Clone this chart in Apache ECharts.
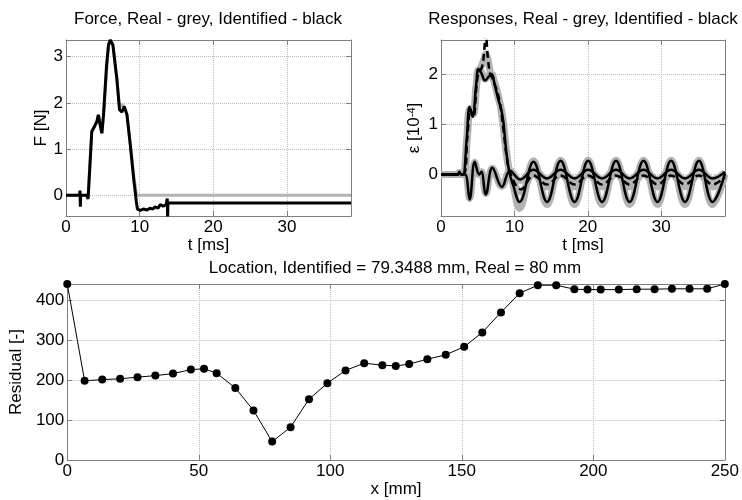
<!DOCTYPE html>
<html>
<head>
<meta charset="utf-8">
<script src="https://cdn.jsdelivr.net/npm/echarts@6.0.0/dist/echarts.min.js"></script>
<style>
html,body{margin:0;padding:0;background:#fff;}
#chart{width:742px;height:500px;}
</style>
</head>
<body>
<div id="chart"></div>
<script>
// ---------------- DATA ----------------
// Force plot (t in ms, F in N)
const forceIdentT = [0, 1.85, 1.9, 1.95, 2.0, 2.8, 3.0, 3.5, 3.9, 4.2, 4.4, 4.6, 4.87, 5.1, 5.5, 5.77, 6.0, 6.37, 6.9, 7.27, 7.6, 7.9, 8.28, 8.73, 9.18, 9.55, 9.7, 10.1, 10.5, 11.0, 11.4, 11.8, 12.1, 12.5, 12.8, 13.2, 13.6, 13.75, 13.8, 13.85, 13.9, 38.7];
const forceIdent  = [0, 0, 0.1, -0.25, 0, 0, -0.08, 1.38, 1.5, 1.6, 1.74, 1.55, 1.34, 1.75, 2.8, 3.25, 3.36, 3.25, 2.53, 1.85, 1.8, 1.92, 1.74, 1.09, 0.37, -0.14, -0.3, -0.33, -0.3, -0.32, -0.28, -0.3, -0.25, -0.28, -0.2, -0.24, -0.2, -0.07, -0.46, -0.17, -0.17, -0.17];
const forceRealT  = [0, 3.0, 3.5, 3.9, 4.2, 4.4, 4.87, 5.1, 5.77, 6.0, 6.37, 6.9, 7.27, 7.6, 7.9, 8.28, 8.73, 9.18, 9.5, 9.6, 38.7];
const forceReal   = [0, 0, 1.38, 1.5, 1.6, 1.74, 1.34, 1.75, 3.25, 3.36, 3.25, 2.53, 1.9, 1.97, 1.92, 1.74, 1.1, 0.45, 0.1, 0, 0];

// Responses (t in ms, strain in 1e-4)
const respAT     = [0, 2.3, 2.5, 2.7, 3.0, 3.5, 3.9, 4.3, 4.8, 5.1, 5.5, 6.0, 6.5, 6.9, 7.3, 7.8, 8.2, 8.5, 8.9, 9.3, 9.8, 10.7, 12.6, 14.45, 16.3, 18.2, 20.05, 21.95, 23.85, 25.7, 27.6, 29.5, 31.35, 33.25, 35.15, 37.0, 38.7];
const respAIdent = [0, 0, 0.04, 0, 0, 0.7, 1.35, 1.15, 1.8, 2.1, 2.02, 1.87, 1.95, 2.0, 1.8, 1.5, 1.3, 1.05, 0.45, 0.05, -0.2, -0.55, 0.25, -0.55, 0.27, -0.55, 0.27, -0.55, 0.27, -0.55, 0.27, -0.55, 0.27, -0.55, 0.27, -0.55, 0.02];
const respAReal  = [0, 0, 0.03, 0, 0, 0.7, 1.3, 1.2, 1.8, 2.08, 2.05, 1.9, 1.97, 2.0, 1.82, 1.52, 1.32, 1.05, 0.5, 0.08, -0.2, -0.68, 0.27, -0.6, 0.28, -0.6, 0.28, -0.6, 0.28, -0.6, 0.28, -0.6, 0.28, -0.6, 0.28, -0.6, 0.0];

const respBT     = [0, 2.3, 2.5, 2.8, 3.3, 3.9, 4.6, 5.2, 5.5, 6.1, 7.0, 8.3, 9.4, 10.8, 12.6, 14.45, 16.3, 18.2, 20.05, 21.95, 23.85, 25.7, 27.6, 29.5, 31.35, 33.25, 35.15, 37.0, 38.7];
const respBIdent = [0, 0, 0.05, 0, 0, -0.5, 0.25, 0.0, 0.05, -0.4, 0.13, -0.25, 0.07, -0.1, 0.09, -0.08, 0.09, -0.08, 0.09, -0.08, 0.09, -0.08, 0.09, -0.08, 0.09, -0.08, 0.09, -0.08, 0.05];
const respBReal  = [0, 0, 0.04, 0, 0, -0.48, 0.24, 0.0, 0.05, -0.38, 0.12, -0.24, 0.07, -0.12, 0.1, -0.1, 0.1, -0.1, 0.1, -0.1, 0.1, -0.1, 0.1, -0.1, 0.1, -0.1, 0.1, -0.1, 0.04];

const respCT     = [0, 3.0, 3.6, 4.0, 4.4, 5.0, 5.6, 5.85, 6.1, 6.4, 6.7, 7.0, 7.5, 8.0, 8.5, 9.0, 9.5, 10.9, 12.6, 14.45, 16.3, 18.2, 20.05, 21.95, 23.85, 25.7, 27.6, 29.5, 31.35, 33.25, 35.15, 37.0, 38.7];
const respCIdent = [0, 0, 0.75, 1.3, 1.15, 1.95, 2.15, 2.4, 2.8, 2.3, 2.0, 1.92, 1.72, 1.45, 0.9, 0.3, 0.0, -0.3, -0.02, -0.2, -0.02, -0.2, -0.02, -0.2, -0.02, -0.2, -0.02, -0.2, -0.02, -0.2, -0.02, -0.2, -0.05];
const respCReal  = [0, 0, 0.75, 1.3, 1.2, 1.95, 2.2, 2.3, 2.4, 2.3, 2.05, 1.95, 1.75, 1.45, 0.9, 0.3, 0.0, -0.35, 0.0, -0.25, 0.0, -0.25, 0.0, -0.25, 0.0, -0.25, 0.0, -0.25, 0.0, -0.25, 0.0, -0.25, -0.05];

// Residual vs location
const locX     = [0, 6.6, 13.3, 20.1, 26.7, 33.5, 40.2, 47.0, 52.0, 56.8, 63.9, 70.8, 77.9, 84.9, 91.9, 98.9, 105.8, 112.9, 119.8, 124.9, 130.0, 136.9, 143.9, 150.9, 157.8, 164.9, 172.0, 178.9, 185.9, 192.8, 197.8, 202.8, 209.7, 216.5, 223.3, 229.9, 236.6, 243.3, 250];
const residual = [440, 198, 201, 203, 207, 211, 216, 226, 228, 217, 180, 124, 46, 82, 152, 192, 224, 242, 237, 235, 240, 252, 263, 283, 319, 369, 417, 437, 437, 427, 426, 426, 426, 427, 427, 428, 428, 428, 440];

// Texts
const titles = ['Force, Real - grey, Identified - black', 'Responses, Real - grey, Identified - black', 'Location, Identified = 79.3488 mm, Real = 80 mm'];
const axisNames = { t: 't [ms]', F: 'F [N]', eps: '\u03b5 [10{sup|-4}]', x: 'x [mm]', res: 'Residual [-]' };

// ---------------- CHART ----------------
const FONT = '"Liberation Sans", Arial, Helvetica, sans-serif';
const FS = 17;
const AXC = '#7f7f7f';
const GREY = '#b3b3b3';

const pairs = (xs, ys) => xs.map((x, i) => [x, ys[i]]);

function mainX(grid, min, max, step, name, fixedInterval) {
  const o = {
    type: 'value', gridIndex: grid, position: 'bottom', min, max,
    name, nameLocation: 'middle', nameGap: 21,
    nameTextStyle: { fontFamily: FONT, fontSize: FS, color: '#000' },
    axisLine: { show: true, onZero: false, lineStyle: { color: AXC, width: 1 } },
    axisTick: { show: true, inside: true, length: 5, lineStyle: { color: AXC } },
    axisLabel: { fontFamily: FONT, fontSize: FS, color: '#000', margin: 3, showMaxLabel: fixedInterval ? true : false },
    splitLine: { show: true, lineStyle: { color: '#bdbdbd', type: 'dotted', width: 1 } }
  };
  if (fixedInterval) o.interval = step; else { o.minInterval = step; o.maxInterval = step; }
  return o;
}
function mirrorX(grid, min, max, step, fixedInterval) {
  const o = {
    type: 'value', gridIndex: grid, position: 'top', min, max,
    axisLine: { show: true, onZero: false, lineStyle: { color: AXC, width: 1 } },
    axisTick: { show: true, inside: true, length: 5, lineStyle: { color: AXC } },
    axisLabel: { show: false }, splitLine: { show: false }
  };
  if (fixedInterval) o.interval = step; else { o.minInterval = step; o.maxInterval = step; }
  return o;
}
function mainY(grid, min, max, step, name, gap, fixedInterval, rich) {
  const o = {
    type: 'value', gridIndex: grid, position: 'left', min, max,
    name, nameLocation: 'middle', nameGap: gap,
    nameTextStyle: { fontFamily: FONT, fontSize: FS, color: '#000', rich: rich || {} },
    axisLine: { show: true, onZero: false, lineStyle: { color: AXC, width: 1 } },
    axisTick: { show: true, inside: true, length: 5, lineStyle: { color: AXC } },
    axisLabel: { fontFamily: FONT, fontSize: FS, color: '#000', margin: 3, showMinLabel: fixedInterval ? true : false, showMaxLabel: false },
    splitLine: { show: true, lineStyle: { color: '#bdbdbd', type: 'dotted', width: 1 } }
  };
  if (fixedInterval) o.interval = step; else { o.minInterval = step; o.maxInterval = step; }
  return o;
}
function mirrorY(grid, min, max, step, fixedInterval) {
  const o = {
    type: 'value', gridIndex: grid, position: 'right', min, max,
    axisLine: { show: true, onZero: false, lineStyle: { color: AXC, width: 1 } },
    axisTick: { show: true, inside: true, length: 5, lineStyle: { color: AXC } },
    axisLabel: { show: false }, splitLine: { show: false }
  };
  if (fixedInterval) o.interval = step; else { o.minInterval = step; o.maxInterval = step; }
  return o;
}

const supRich = { sup: { fontFamily: FONT, fontSize: 11, color: '#000', verticalAlign: 'top', padding: [0, 0, 6, 0] } };

const option = {
  animation: false,
  backgroundColor: '#fff',
  textStyle: { fontFamily: FONT },
  title: [
    { text: titles[0], left: 208, top: 11, padding: 0, textAlign: 'center', textStyle: { fontFamily: FONT, fontSize: FS, fontWeight: 'normal', color: '#000' } },
    { text: titles[1], left: 583, top: 11, padding: 0, textAlign: 'center', textStyle: { fontFamily: FONT, fontSize: FS, fontWeight: 'normal', color: '#000' } },
    { text: titles[2], left: 395, top: 260, padding: 0, textAlign: 'center', textStyle: { fontFamily: FONT, fontSize: FS, fontWeight: 'normal', color: '#000' } }
  ],
  grid: [
    { left: 66, top: 40, width: 285, height: 176 },
    { left: 441, top: 40, width: 284, height: 176 },
    { left: 66, top: 284, width: 659, height: 176 }
  ],
  xAxis: [
    mainX(0, 0, 38.7, 10, axisNames.t, false),
    mirrorX(0, 0, 38.7, 10, false),
    mainX(1, 0, 38.7, 10, axisNames.t, false),
    mirrorX(1, 0, 38.7, 10, false),
    mainX(2, 0, 250, 50, axisNames.x, true),
    mirrorX(2, 0, 250, 50, true)
  ],
  yAxis: [
    mainY(0, -0.45, 3.36, 1, axisNames.F, 16, false),
    mirrorY(0, -0.45, 3.36, 1, false),
    mainY(1, -0.83, 2.68, 1, axisNames.eps, 18, false, supRich),
    mirrorY(1, -0.83, 2.68, 1, false),
    mainY(2, 0, 440, 100, axisNames.res, 31, true),
    mirrorY(2, 0, 440, 100, true)
  ],
  series: [
    // Force
    { type: 'line', xAxisIndex: 0, yAxisIndex: 0, data: pairs(forceRealT, forceReal), symbol: 'none', lineStyle: { color: GREY, width: 3 }, z: 2 },
    { type: 'line', xAxisIndex: 0, yAxisIndex: 0, data: pairs(forceIdentT, forceIdent), symbol: 'none', lineStyle: { color: '#000', width: 3 }, z: 3 },
    // Responses real (grey)
    { type: 'line', xAxisIndex: 2, yAxisIndex: 2, data: pairs(respAT, respAReal), symbol: 'none', smooth: 0.4, lineStyle: { color: GREY, width: 7 }, z: 2 },
    { type: 'line', xAxisIndex: 2, yAxisIndex: 2, data: pairs(respBT, respBReal), symbol: 'none', smooth: 0.4, lineStyle: { color: GREY, width: 7 }, z: 2 },
    { type: 'line', xAxisIndex: 2, yAxisIndex: 2, data: pairs(respCT, respCReal), symbol: 'none', smooth: 0.4, lineStyle: { color: GREY, width: 7 }, z: 2 },
    // Responses identified (black)
    { type: 'line', xAxisIndex: 2, yAxisIndex: 2, data: pairs(respAT, respAIdent), symbol: 'none', smooth: 0.4, lineStyle: { color: '#000', width: 2.5 }, z: 3 },
    { type: 'line', xAxisIndex: 2, yAxisIndex: 2, data: pairs(respBT, respBIdent), symbol: 'none', smooth: 0.4, lineStyle: { color: '#000', width: 2.5 }, z: 3 },
    { type: 'line', xAxisIndex: 2, yAxisIndex: 2, data: pairs(respCT, respCIdent), symbol: 'none', smooth: 0.4, lineStyle: { color: '#000', width: 2.5, type: [7, 4] }, z: 3 },
    // Residual
    { type: 'line', xAxisIndex: 4, yAxisIndex: 4, data: pairs(locX, residual), symbol: 'circle', symbolSize: 8, itemStyle: { color: '#000' }, lineStyle: { color: '#000', width: 1 }, clip: false, z: 3 }
  ]
};

const chart = echarts.init(document.getElementById('chart'));
chart.setOption(option);
</script>
</body>
</html>
